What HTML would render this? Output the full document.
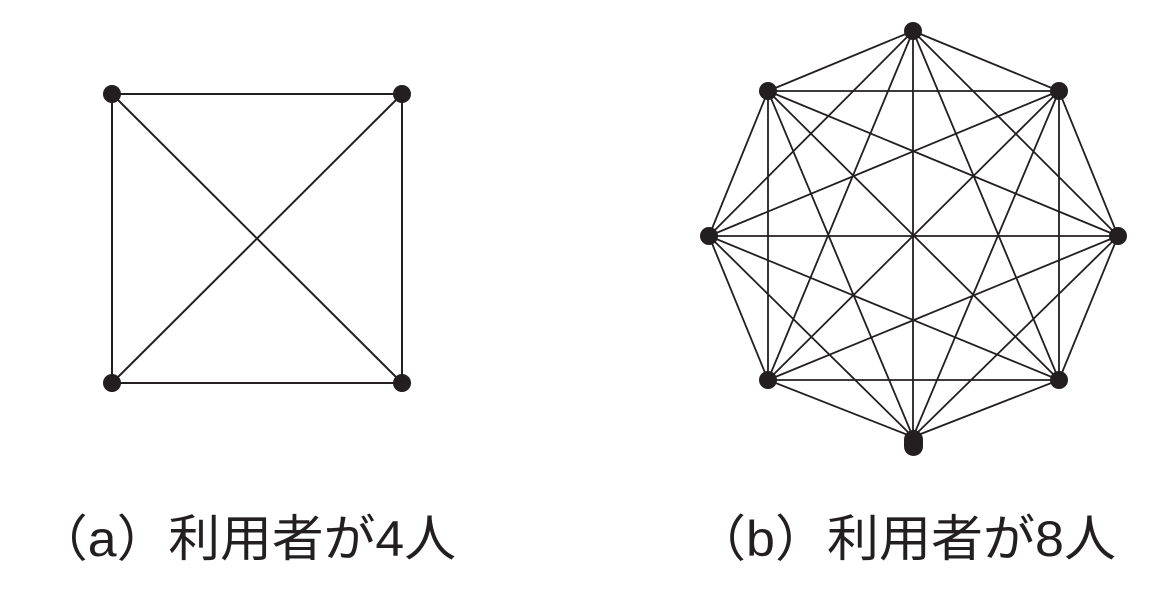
<!DOCTYPE html>
<html><head><meta charset="utf-8"><style>html,body{margin:0;padding:0;background:#fff}svg{display:block}</style></head>
<body>
<svg width="1167" height="613" viewBox="0 0 1167 613" xmlns="http://www.w3.org/2000/svg">
<g stroke="#231f20" stroke-width="2" fill="none">
<line x1="112" y1="94" x2="402" y2="94"/><line x1="112" y1="383" x2="402" y2="383"/>
<line x1="112" y1="94" x2="112" y2="383"/><line x1="402" y1="94" x2="402" y2="383"/>
<line x1="112" y1="94" x2="402" y2="383"/><line x1="402" y1="94" x2="112" y2="383"/>
</g>
<path stroke="#231f20" stroke-width="1.8" fill="none" d="
M913 31L1059 91 M913 31L1118 236 M913 31L1059 380 M913 31L913 437 M913 31L768 380 M913 31L709 236 M913 31L768 91
M1059 91L1118 236 M1059 91L1059 380 M1059 91L913 437 M1059 91L768 380 M1059 91L709 236 M1059 91L768 91
M1118 236L1059 380 M1118 236L913 437 M1118 236L768 380 M1118 236L709 236 M1118 236L768 91
M1059 380L913 437 M1059 380L768 380 M1059 380L709 236 M1059 380L768 91
M913 437L768 380 M913 437L709 236 M913 437L768 91
M768 380L709 236 M768 380L768 91
M709 236L768 91"/>
<g fill="#231f20">
<circle cx="112" cy="94" r="9"/><circle cx="402" cy="94" r="9"/><circle cx="112" cy="383" r="9"/><circle cx="402" cy="383" r="9"/>
<circle cx="913" cy="31" r="9"/><circle cx="768" cy="91" r="9"/><circle cx="1059" cy="91" r="9"/>
<circle cx="709" cy="236" r="9"/><circle cx="1118" cy="236" r="9"/><circle cx="768" cy="380" r="9"/><circle cx="1059" cy="380" r="9"/>
<rect x="904" y="430" width="19" height="26" rx="9.5"/>
</g>
<g font-family="Liberation Sans, Noto Sans CJK JP, sans-serif" font-size="50" fill="#231f20">
<text x="36" y="556" textLength="420" lengthAdjust="spacingAndGlyphs">（a）利用者が4人</text>
<text x="694" y="556" textLength="422" lengthAdjust="spacingAndGlyphs">（b）利用者が8人</text>
</g>
</svg>
</body></html>
